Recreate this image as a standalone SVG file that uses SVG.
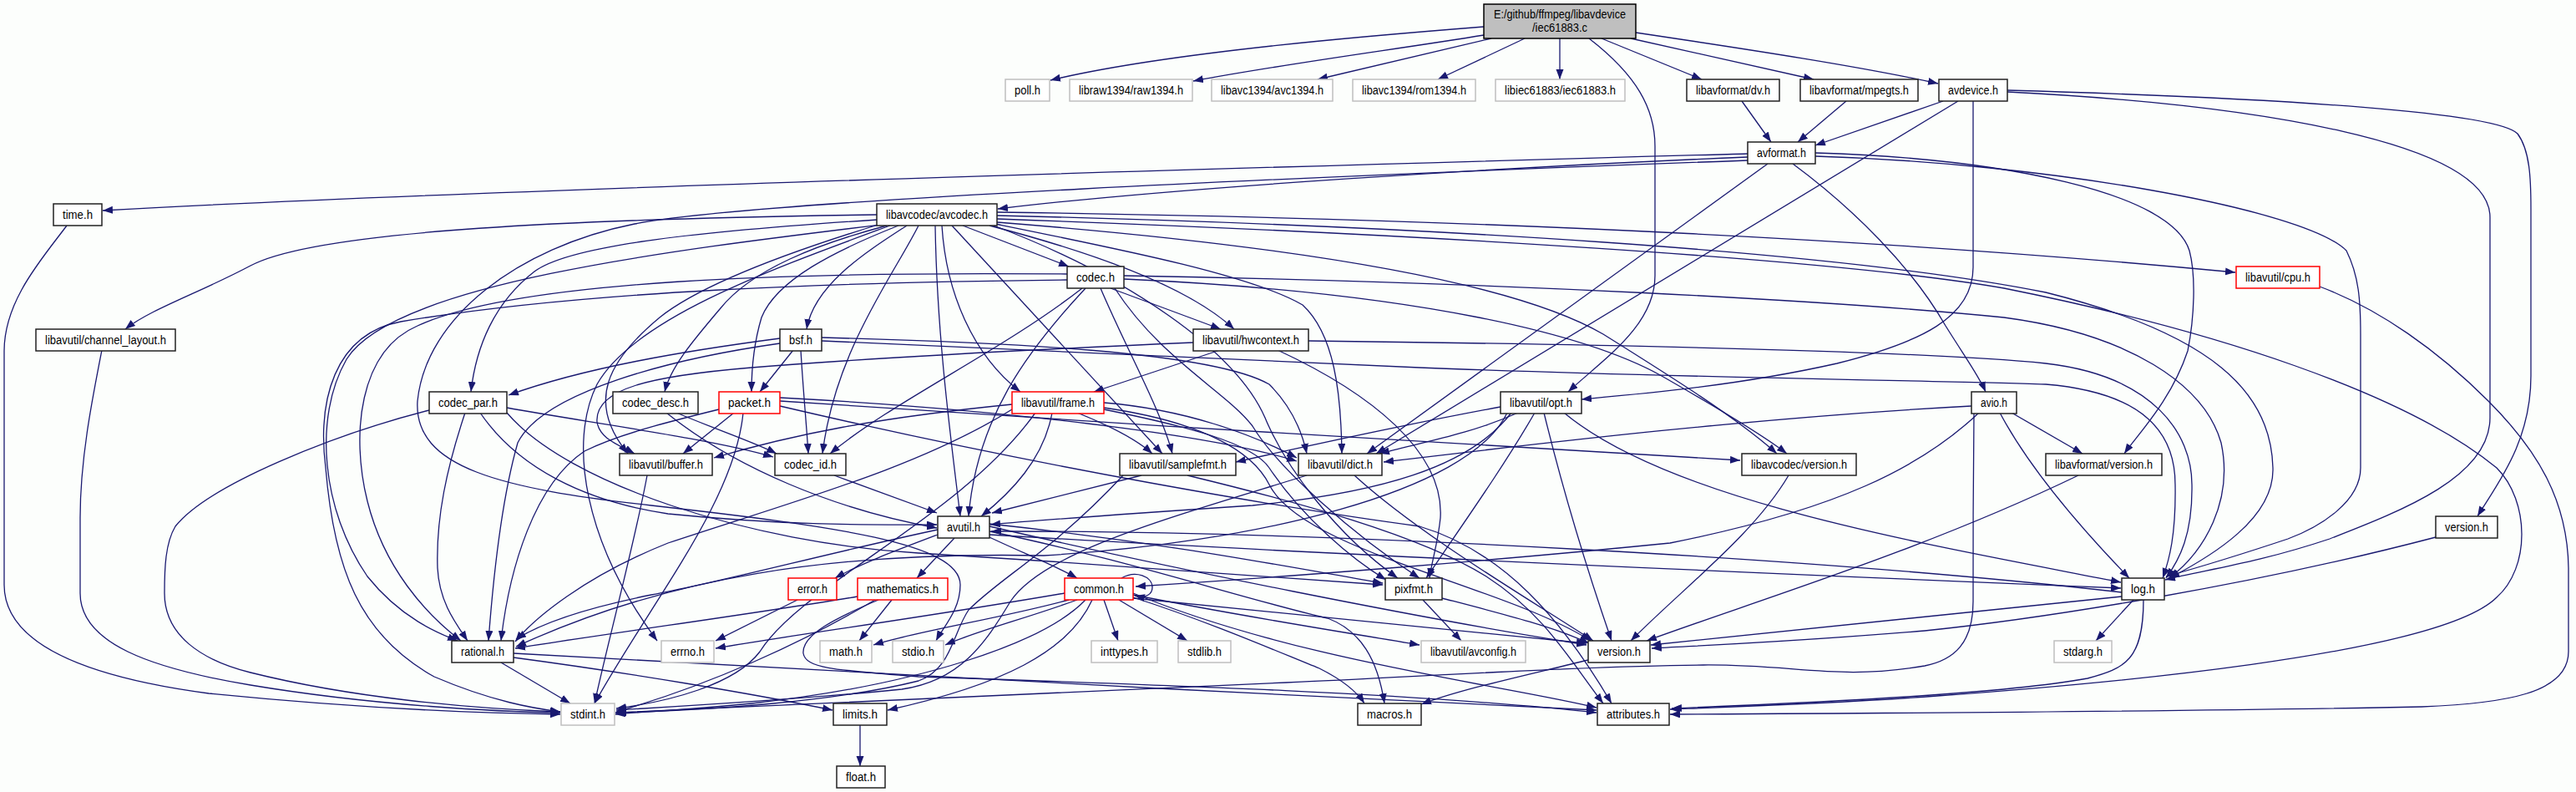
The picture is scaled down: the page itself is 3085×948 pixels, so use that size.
<svg xmlns="http://www.w3.org/2000/svg" width="3085" height="948" viewBox="0 0 3085 948">
<defs>
<marker id="arr" markerUnits="userSpaceOnUse" markerWidth="13" markerHeight="10" refX="12" refY="4.5" orient="auto"><path d="M0,0 L12,4.5 L0,9 z" fill="#191970"/></marker>
</defs>
<style>
#edges path{fill:none;stroke:#191970;stroke-width:1.3;marker-end:url(#arr)}
.node rect{fill:#fff;stroke:#222;stroke-width:1.5}
.node.ext rect{stroke:#bfbfbf}
.node.red rect{stroke:#ff0000}
.node.root rect{fill:#bfbfbf;stroke:#000}
.node text{font-family:"Liberation Sans Narrow","Liberation Sans",Arial,sans-serif;font-size:14px;text-anchor:middle;fill:#000}
</style>
<rect width="3085" height="948" fill="#fcfefc"/>
<g id="edges">
<path d="M1777,32 C1650,42 1400,62 1258,96"/>
<path d="M1777,42 C1680,58 1540,76 1429,97"/>
<path d="M1786,46 L1578,95"/>
<path d="M1826,46 L1722,95"/>
<path d="M1868,46 L1868,95"/>
<path d="M1918,46 L2038,95"/>
<path d="M1953,46 L2172,95"/>
<path d="M1959,39 C2100,60 2230,80 2321,100"/>
<path d="M1903,46 C1960,90 1982,130 1982,175 L1982,330 C1982,390 1920,430 1878,469"/>
<path d="M2086,121 L2121,170"/>
<path d="M2211,121 L2153,170"/>
<path d="M2327,121 L2174,174"/>
<path d="M2345,121 L1648,543"/>
<path d="M2363,121 L2363,320 C2363,380 2300,410 2200,435 C2080,462 1960,472 1894,478"/>
<path d="M2404,110 C2700,125 2982,170 2982,260 L2982,500 C2982,570 2880,610 2790,645 C2700,675 2640,682 2593,694"/>
<path d="M2404,108 C2750,118 2990,135 3015,160 C3030,180 3031,215 3031,250 L3031,450 C3031,530 2990,580 2967,618"/>
<path d="M2093,184 C1700,195 600,225 123,252"/>
<path d="M2093,188 C1800,200 1400,225 1195,250"/>
<path d="M2093,192 C1600,210 900,240 760,268 C620,296 510,380 500,480 C495,560 600,585 780,605 C1000,630 1150,650 1150,700 C1150,730 1130,750 1121,767"/>
<path d="M2117,196 L1637,543"/>
<path d="M2174,183 C2400,190 2600,230 2622,300 C2630,330 2628,380 2620,420 C2600,480 2560,520 2544,543"/>
<path d="M2174,187 C2450,195 2760,250 2810,300 C2825,330 2827,360 2827,400 L2827,560 C2827,600 2780,630 2740,645 C2680,665 2630,680 2594,690"/>
<path d="M2147,196 C2220,250 2290,320 2330,390 C2355,430 2370,450 2378,469"/>
<path d="M1050,257 C700,262 380,275 300,318 C240,350 180,370 150,394"/>
<path d="M1051,263 C820,278 680,295 640,325 C592,362 570,415 564,469"/>
<path d="M1055,269 C800,300 470,340 415,430 C375,500 385,610 440,690 C480,740 525,758 548,767"/>
<path d="M1066,270 C930,320 760,380 715,460 C680,530 700,650 787,767"/>
<path d="M1086,270 C1040,300 975,340 966,394"/>
<path d="M1076,270 C1000,300 930,335 912,380 C903,410 900,440 900,469"/>
<path d="M1062,270 C980,292 900,322 862,370 C828,410 803,440 796,469"/>
<path d="M1100,270 C1070,330 1000,420 985,543"/>
<path d="M1120,270 C1122,400 1138,520 1150,618"/>
<path d="M1128,270 C1133,350 1165,425 1222,469"/>
<path d="M1140,270 L1392,543"/>
<path d="M1153,270 L1280,319"/>
<path d="M1185,270 C1300,300 1420,340 1478,394"/>
<path d="M1192,268 C1350,300 1500,330 1560,365 C1598,400 1606,470 1607,543"/>
<path d="M1194,258 C1700,270 2200,300 2450,350 C2650,400 2720,470 2722,560 C2724,620 2650,665 2598,692"/>
<path d="M1190,270 C1350,330 1480,420 1515,500 C1540,560 1600,640 1674,692"/>
<path d="M1194,254 C1800,262 2300,290 2677,326"/>
<path d="M1194,262 C1700,280 2200,310 2400,345 C2650,395 2880,470 2990,560 C3030,600 3030,680 2990,715 C2920,785 2500,820 2320,833 C2200,842 2080,846 2000,849"/>
<path d="M1194,266 C1500,290 1800,330 1920,400 C2000,450 2080,500 2128,543"/>
<path d="M1055,268 C950,300 840,340 790,380 C730,430 700,480 752,543"/>
<path d="M1330,345 L1462,394"/>
<path d="M1296,345 C1200,420 1070,480 994,543"/>
<path d="M1300,345 C1230,420 1170,500 1160,618"/>
<path d="M1318,345 C1350,420 1390,490 1404,543"/>
<path d="M1278,335 C1000,338 700,348 480,385 C400,400 380,480 390,560 C400,680 430,760 520,810 C590,840 640,848 671,852"/>
<path d="M1278,328 C950,325 620,335 500,390 C430,420 420,520 440,600 C460,680 510,735 552,767"/>
<path d="M1335,345 C1390,430 1470,470 1500,510 C1530,560 1620,640 1700,692"/>
<path d="M1346,330 C1800,338 2200,360 2400,380 C2550,400 2640,460 2660,530 C2675,600 2640,660 2598,692"/>
<path d="M1346,334 C1700,350 1900,400 1990,450 C2060,490 2110,520 2140,543"/>
<path d="M950,419 L910,469"/>
<path d="M959,419 C962,470 966,510 968,543"/>
<path d="M934,405 C820,420 700,440 609,473"/>
<path d="M934,411 C800,430 650,470 620,530 C600,600 590,700 585,767"/>
<path d="M984,404 C1200,410 1450,420 1520,460 C1550,490 1560,520 1565,543"/>
<path d="M984,408 C1300,420 1500,430 1700,440 C2000,452 2300,455 2450,460 C2570,470 2605,520 2605,580 C2606,640 2598,670 2590,692"/>
<path d="M1461,419 L1310,469"/>
<path d="M1429,410 C1200,420 1000,432 900,440 C780,450 712,465 715,505 C718,525 740,532 760,543"/>
<path d="M1567,408 C1900,412 2300,420 2450,435 C2580,450 2625,520 2625,580 C2626,640 2610,670 2594,692"/>
<path d="M1530,419 C1640,470 1730,540 1725,620 C1722,650 1715,670 1712,692"/>
<path d="M514,491 C400,520 250,580 210,630 C198,650 197,680 197,710 C197,760 240,790 300,805 C420,835 560,848 671,852"/>
<path d="M575,494 C620,560 700,600 800,615 C950,630 1050,628 1122,628"/>
<path d="M557,494 C535,560 522,620 524,680 C526,720 545,745 560,767"/>
<path d="M607,494 C680,580 900,650 1100,662 C1300,674 1550,692 1656,700"/>
<path d="M607,488 C700,505 850,525 926,547"/>
<path d="M810,494 C860,515 905,530 930,543"/>
<path d="M798,494 C880,560 1000,610 1122,632"/>
<path d="M879,494 L818,543"/>
<path d="M890,494 C880,600 780,720 712,842"/>
<path d="M861,490 C800,505 740,520 700,540 C640,580 610,680 600,767"/>
<path d="M934,476 C1200,490 1450,520 1553,552"/>
<path d="M934,480 C1300,505 1800,535 2084,551"/>
<path d="M934,486 C1250,560 1550,610 1700,630 C1800,660 1870,740 1930,842"/>
<path d="M1260,494 C1250,550 1210,590 1175,618"/>
<path d="M1212,484 C1050,500 950,520 855,548"/>
<path d="M1322,482 C1420,490 1500,520 1553,548"/>
<path d="M1290,494 C1330,510 1360,525 1380,543"/>
<path d="M1322,490 C1420,510 1500,530 1520,560 C1560,620 1620,670 1660,694"/>
<path d="M1212,490 C1100,560 950,600 800,650 C700,690 640,740 617,768"/>
<path d="M1240,494 C1150,620 960,700 910,780 C880,820 800,840 738,848"/>
<path d="M1322,488 C1440,505 1500,540 1520,580 C1560,660 1800,700 1905,767"/>
<path d="M1818,494 C1760,520 1700,530 1652,543"/>
<path d="M1797,487 C1700,505 1560,535 1480,553"/>
<path d="M1810,494 C1760,560 1650,590 1500,605 C1350,615 1250,622 1186,628"/>
<path d="M1805,494 C1760,590 1500,650 1250,665 C1000,660 800,690 618,774"/>
<path d="M1838,494 C1800,560 1750,630 1708,692"/>
<path d="M1849,494 C1870,580 1900,680 1930,767"/>
<path d="M1873,494 C2000,600 2300,650 2540,697"/>
<path d="M2409,494 L2494,543"/>
<path d="M2395,494 C2430,560 2490,630 2550,692"/>
<path d="M2361,486 C2100,500 1850,530 1657,553"/>
<path d="M2370,494 C2300,560 2200,610 2000,650 C1800,670 1550,690 1360,702"/>
<path d="M2364,494 C2363,560 2363,650 2363,720 C2363,770 2340,790 2305,797 C2200,815 2150,795 2040,796 C1900,797 1700,810 1540,817 C1200,830 900,845 737,853"/>
<path d="M775,569 C760,650 730,760 712,842"/>
<path d="M999,569 L1122,614"/>
<path d="M1367,569 L1188,614"/>
<path d="M1345,569 C1260,660 1200,690 1160,730 C1140,760 1140,800 1100,815 C1000,840 850,850 738,853"/>
<path d="M1422,569 C1550,600 1700,640 1780,690 C1850,735 1880,790 1920,842"/>
<path d="M1622,569 C1700,640 1820,710 1908,767"/>
<path d="M1565,569 C1400,620 1250,660 1210,720 C1180,770 1150,815 1080,825 C950,838 820,845 738,850"/>
<path d="M2142,569 C2100,640 2020,700 1953,767"/>
<path d="M2489,569 C2300,660 2100,720 1972,767"/>
<path d="M2917,643 C2700,700 2450,740 2305,755 C2150,768 2050,772 1978,776"/>
<path d="M1123,640 C1070,660 1030,675 1000,692"/>
<path d="M1143,644 L1098,692"/>
<path d="M1183,642 C1220,660 1260,675 1290,692"/>
<path d="M1123,634 C1000,660 850,700 780,712 C700,728 650,745 618,765"/>
<path d="M1185,636 C1350,670 1500,720 1590,740 C1630,755 1650,790 1658,842"/>
<path d="M1185,630 C1400,680 1700,740 1900,772"/>
<path d="M1185,640 C1600,665 2200,690 2540,704"/>
<path d="M1185,627 C1400,650 1550,680 1656,698"/>
<path d="M2541,709 C2200,670 1600,635 1187,636"/>
<path d="M955,718 L857,767"/>
<path d="M1068,718 L1029,767"/>
<path d="M1027,714 C900,735 750,755 617,776"/>
<path d="M1048,718 C960,770 850,820 738,852"/>
<path d="M1052,718 C1000,740 960,760 962,782 C965,800 1000,802 1100,810 C1400,820 1700,830 1912,853"/>
<path d="M1343,692 C1360,682 1380,690 1380,703 C1380,712 1372,716 1359,713"/>
<path d="M1275,710 C1100,740 950,760 857,776"/>
<path d="M1280,718 C1200,740 1100,755 1046,772"/>
<path d="M1290,718 C1230,740 1170,755 1132,772"/>
<path d="M1322,718 L1339,767"/>
<path d="M1340,718 L1422,767"/>
<path d="M1308,718 C1280,780 1200,820 1063,850"/>
<path d="M1300,718 C1250,770 1100,820 900,842 C820,850 770,852 737,855"/>
<path d="M1357,710 C1550,790 1800,820 1912,847"/>
<path d="M1357,715 C1450,745 1530,780 1580,800 C1610,815 1625,828 1634,842"/>
<path d="M1357,716 C1600,740 1800,760 1900,770"/>
<path d="M1357,712 C1500,740 1600,755 1700,772"/>
<path d="M1704,718 L1750,767"/>
<path d="M1727,716 C1800,735 1860,750 1903,770"/>
<path d="M2555,718 L2510,767"/>
<path d="M2567,718 C2567,790 2545,800 2500,812 C2400,830 2200,840 2002,848"/>
<path d="M2541,714 C2300,740 2100,760 1977,772"/>
<path d="M600,793 L683,842"/>
<path d="M615,787 C750,805 900,830 997,850"/>
<path d="M615,782 C900,800 1500,830 1912,850"/>
<path d="M1030,868 L1030,917"/>
<path d="M1902,790 C1820,810 1750,825 1702,843"/>
<path d="M80,270 C50,310 5,360 5,420 L5,700 C5,770 100,810 250,830 C450,850 600,854 671,855"/>
<path d="M122,419 C110,480 96,550 96,620 L96,710 C96,770 180,800 300,820 C450,845 600,852 671,853"/>
<path d="M2778,343 C2850,370 2920,420 2980,480 C3040,540 3075,600 3076,680 L3076,780 C3076,830 3000,842 2900,846 C2600,852 2200,854 2000,855"/>
</g>
<g id="nodes">
<g id="n-main" class="node root"><rect x="1777" y="5" width="182" height="41"/><text x="1868" y="22" textLength="158" lengthAdjust="spacingAndGlyphs">E:/github/ffmpeg/libavdevice</text><text x="1868" y="38" textLength="66" lengthAdjust="spacingAndGlyphs">/iec61883.c</text></g>
<g id="n-poll" class="node ext"><rect x="1204" y="95" width="53" height="26"/><text x="1230.5" y="113" textLength="31" lengthAdjust="spacingAndGlyphs">poll.h</text></g>
<g id="n-raw1394" class="node ext"><rect x="1281" y="95" width="147" height="26"/><text x="1354.5" y="113" textLength="125" lengthAdjust="spacingAndGlyphs">libraw1394/raw1394.h</text></g>
<g id="n-avc1394" class="node ext"><rect x="1451" y="95" width="145" height="26"/><text x="1523.5" y="113" textLength="123" lengthAdjust="spacingAndGlyphs">libavc1394/avc1394.h</text></g>
<g id="n-rom1394" class="node ext"><rect x="1620" y="95" width="147" height="26"/><text x="1693.5" y="113" textLength="125" lengthAdjust="spacingAndGlyphs">libavc1394/rom1394.h</text></g>
<g id="n-iec61883" class="node ext"><rect x="1791" y="95" width="155" height="26"/><text x="1868.5" y="113" textLength="133" lengthAdjust="spacingAndGlyphs">libiec61883/iec61883.h</text></g>
<g id="n-dv" class="node"><rect x="2020" y="95" width="111" height="26"/><text x="2075.5" y="113" textLength="89" lengthAdjust="spacingAndGlyphs">libavformat/dv.h</text></g>
<g id="n-mpegts" class="node"><rect x="2156" y="95" width="141" height="26"/><text x="2226.5" y="113" textLength="119" lengthAdjust="spacingAndGlyphs">libavformat/mpegts.h</text></g>
<g id="n-avdevice" class="node"><rect x="2322" y="95" width="82" height="26"/><text x="2363" y="113" textLength="60" lengthAdjust="spacingAndGlyphs">avdevice.h</text></g>
<g id="n-avformat" class="node"><rect x="2093" y="170" width="81" height="26"/><text x="2133.5" y="188" textLength="59" lengthAdjust="spacingAndGlyphs">avformat.h</text></g>
<g id="n-time" class="node"><rect x="64" y="244" width="58" height="26"/><text x="93" y="262" textLength="36" lengthAdjust="spacingAndGlyphs">time.h</text></g>
<g id="n-avcodec" class="node"><rect x="1050" y="244" width="144" height="26"/><text x="1122" y="262" textLength="122" lengthAdjust="spacingAndGlyphs">libavcodec/avcodec.h</text></g>
<g id="n-cpu" class="node red"><rect x="2678" y="319" width="100" height="26"/><text x="2728" y="337" textLength="78" lengthAdjust="spacingAndGlyphs">libavutil/cpu.h</text></g>
<g id="n-codec" class="node"><rect x="1278" y="319" width="68" height="26"/><text x="1312" y="337" textLength="46" lengthAdjust="spacingAndGlyphs">codec.h</text></g>
<g id="n-channel_layout" class="node"><rect x="43" y="394" width="167" height="26"/><text x="126.5" y="412" textLength="145" lengthAdjust="spacingAndGlyphs">libavutil/channel_layout.h</text></g>
<g id="n-bsf" class="node"><rect x="934" y="394" width="50" height="26"/><text x="959" y="412" textLength="28" lengthAdjust="spacingAndGlyphs">bsf.h</text></g>
<g id="n-hwcontext" class="node"><rect x="1429" y="394" width="138" height="26"/><text x="1498" y="412" textLength="116" lengthAdjust="spacingAndGlyphs">libavutil/hwcontext.h</text></g>
<g id="n-codec_par" class="node"><rect x="514" y="469" width="93" height="26"/><text x="560.5" y="487" textLength="71" lengthAdjust="spacingAndGlyphs">codec_par.h</text></g>
<g id="n-codec_desc" class="node"><rect x="734" y="469" width="102" height="26"/><text x="785" y="487" textLength="80" lengthAdjust="spacingAndGlyphs">codec_desc.h</text></g>
<g id="n-packet" class="node red"><rect x="861" y="469" width="73" height="26"/><text x="897.5" y="487" textLength="51" lengthAdjust="spacingAndGlyphs">packet.h</text></g>
<g id="n-frame" class="node red"><rect x="1212" y="469" width="110" height="26"/><text x="1267" y="487" textLength="88" lengthAdjust="spacingAndGlyphs">libavutil/frame.h</text></g>
<g id="n-opt" class="node"><rect x="1797" y="469" width="97" height="26"/><text x="1845.5" y="487" textLength="75" lengthAdjust="spacingAndGlyphs">libavutil/opt.h</text></g>
<g id="n-avio" class="node"><rect x="2361" y="469" width="54" height="26"/><text x="2388" y="487" textLength="32" lengthAdjust="spacingAndGlyphs">avio.h</text></g>
<g id="n-buffer" class="node"><rect x="742" y="543" width="111" height="26"/><text x="797.5" y="561" textLength="89" lengthAdjust="spacingAndGlyphs">libavutil/buffer.h</text></g>
<g id="n-codec_id" class="node"><rect x="928" y="543" width="85" height="26"/><text x="970.5" y="561" textLength="63" lengthAdjust="spacingAndGlyphs">codec_id.h</text></g>
<g id="n-samplefmt" class="node"><rect x="1341" y="543" width="139" height="26"/><text x="1410.5" y="561" textLength="117" lengthAdjust="spacingAndGlyphs">libavutil/samplefmt.h</text></g>
<g id="n-dict" class="node"><rect x="1555" y="543" width="100" height="26"/><text x="1605" y="561" textLength="78" lengthAdjust="spacingAndGlyphs">libavutil/dict.h</text></g>
<g id="n-lavc_version" class="node"><rect x="2086" y="543" width="137" height="26"/><text x="2154.5" y="561" textLength="115" lengthAdjust="spacingAndGlyphs">libavcodec/version.h</text></g>
<g id="n-lavf_version" class="node"><rect x="2450" y="543" width="139" height="26"/><text x="2519.5" y="561" textLength="117" lengthAdjust="spacingAndGlyphs">libavformat/version.h</text></g>
<g id="n-lavd_version" class="node"><rect x="2917" y="618" width="74" height="26"/><text x="2954" y="636" textLength="52" lengthAdjust="spacingAndGlyphs">version.h</text></g>
<g id="n-avutil" class="node"><rect x="1123" y="618" width="62" height="26"/><text x="1154" y="636" textLength="40" lengthAdjust="spacingAndGlyphs">avutil.h</text></g>
<g id="n-error" class="node red"><rect x="944" y="692" width="58" height="26"/><text x="973" y="710" textLength="36" lengthAdjust="spacingAndGlyphs">error.h</text></g>
<g id="n-mathematics" class="node red"><rect x="1027" y="692" width="108" height="26"/><text x="1081" y="710" textLength="86" lengthAdjust="spacingAndGlyphs">mathematics.h</text></g>
<g id="n-common" class="node red"><rect x="1275" y="692" width="82" height="26"/><text x="1316" y="710" textLength="60" lengthAdjust="spacingAndGlyphs">common.h</text></g>
<g id="n-pixfmt" class="node"><rect x="1659" y="692" width="68" height="26"/><text x="1693" y="710" textLength="46" lengthAdjust="spacingAndGlyphs">pixfmt.h</text></g>
<g id="n-log" class="node"><rect x="2541" y="692" width="51" height="26"/><text x="2566.5" y="710" textLength="29" lengthAdjust="spacingAndGlyphs">log.h</text></g>
<g id="n-rational" class="node"><rect x="541" y="767" width="74" height="26"/><text x="578" y="785" textLength="52" lengthAdjust="spacingAndGlyphs">rational.h</text></g>
<g id="n-errno" class="node ext"><rect x="792" y="767" width="63" height="26"/><text x="823.5" y="785" textLength="41" lengthAdjust="spacingAndGlyphs">errno.h</text></g>
<g id="n-math" class="node ext"><rect x="982" y="767" width="62" height="26"/><text x="1013" y="785" textLength="40" lengthAdjust="spacingAndGlyphs">math.h</text></g>
<g id="n-stdio" class="node ext"><rect x="1069" y="767" width="61" height="26"/><text x="1099.5" y="785" textLength="39" lengthAdjust="spacingAndGlyphs">stdio.h</text></g>
<g id="n-inttypes" class="node ext"><rect x="1307" y="767" width="79" height="26"/><text x="1346.5" y="785" textLength="57" lengthAdjust="spacingAndGlyphs">inttypes.h</text></g>
<g id="n-stdlib" class="node ext"><rect x="1411" y="767" width="63" height="26"/><text x="1442.5" y="785" textLength="41" lengthAdjust="spacingAndGlyphs">stdlib.h</text></g>
<g id="n-avconfig" class="node ext"><rect x="1702" y="767" width="125" height="26"/><text x="1764.5" y="785" textLength="103" lengthAdjust="spacingAndGlyphs">libavutil/avconfig.h</text></g>
<g id="n-lavu_version" class="node"><rect x="1902" y="767" width="74" height="26"/><text x="1939" y="785" textLength="52" lengthAdjust="spacingAndGlyphs">version.h</text></g>
<g id="n-stdarg" class="node ext"><rect x="2460" y="767" width="69" height="26"/><text x="2494.5" y="785" textLength="47" lengthAdjust="spacingAndGlyphs">stdarg.h</text></g>
<g id="n-stdint" class="node ext"><rect x="672" y="842" width="64" height="26"/><text x="704" y="860" textLength="42" lengthAdjust="spacingAndGlyphs">stdint.h</text></g>
<g id="n-limits" class="node"><rect x="998" y="842" width="64" height="26"/><text x="1030" y="860" textLength="42" lengthAdjust="spacingAndGlyphs">limits.h</text></g>
<g id="n-macros" class="node"><rect x="1626" y="842" width="76" height="26"/><text x="1664" y="860" textLength="54" lengthAdjust="spacingAndGlyphs">macros.h</text></g>
<g id="n-attributes" class="node"><rect x="1913" y="842" width="86" height="26"/><text x="1956" y="860" textLength="64" lengthAdjust="spacingAndGlyphs">attributes.h</text></g>
<g id="n-float" class="node"><rect x="1002" y="917" width="58" height="26"/><text x="1031" y="935" textLength="36" lengthAdjust="spacingAndGlyphs">float.h</text></g>
</g>
</svg>
